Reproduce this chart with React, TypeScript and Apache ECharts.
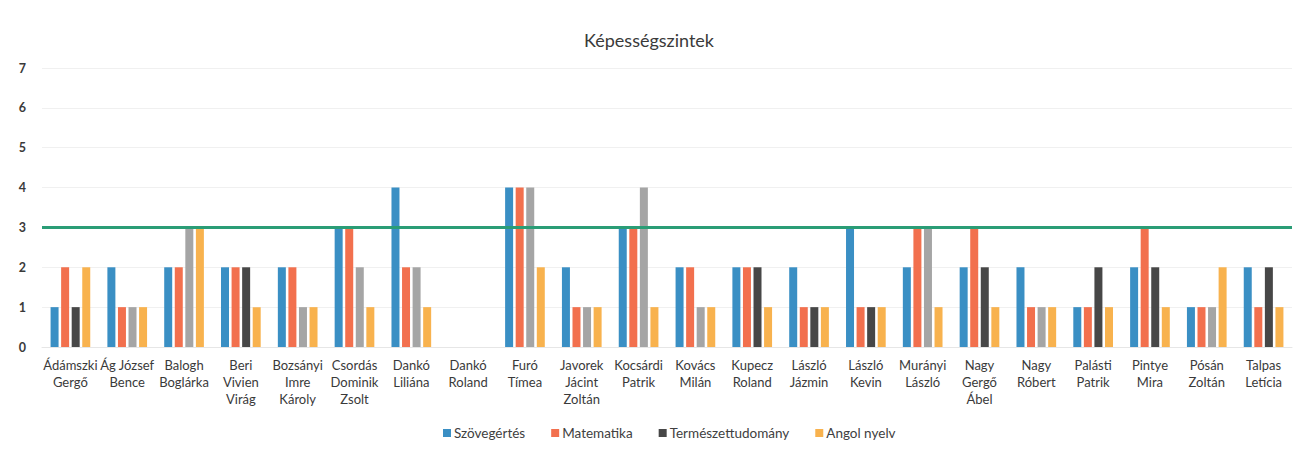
import React, { useEffect, useRef } from "react";
import * as echarts from "echarts";

const title = "Képességszintek";
const categories = [
  "Ádámszki\nGergő", "Ág József\nBence", "Balogh\nBoglárka", "Beri\nVivien\nVirág",
  "Bozsányi\nImre\nKároly", "Csordás\nDominik\nZsolt", "Dankó\nLiliána", "Dankó\nRoland",
  "Furó\nTímea", "Javorek\nJácint\nZoltán", "Kocsárdi\nPatrik", "Kovács\nMilán",
  "Kupecz\nRoland", "László\nJázmin", "László\nKevin", "Murányi\nLászló",
  "Nagy\nGergő\nÁbel", "Nagy\nRóbert", "Palásti\nPatrik", "Pintye\nMira",
  "Pósán\nZoltán", "Talpas\nLetícia",
];
const seriesNames = ["Szövegértés", "Matematika", "Természettudomány", "Angol nyelv"];
const szovegertes = [1, 2, 2, 2, 2, 3, 4, 0, 4, 2, 3, 2, 2, 2, 3, 2, 2, 2, 1, 2, 1, 2];
const matematika = [2, 1, 2, 2, 2, 3, 2, 0, 4, 1, 3, 2, 2, 1, 1, 3, 3, 1, 1, 3, 1, 1];
const termeszettudomany = [1, 1, 3, 2, 1, 2, 2, 0, 4, 1, 4, 1, 2, 1, 1, 3, 2, 1, 2, 2, 1, 2];
const angolNyelv = [2, 1, 3, 1, 1, 1, 1, 0, 2, 1, 1, 1, 1, 1, 1, 1, 1, 1, 1, 1, 2, 1];
const thresholdLevel = 3;
const yTicks = [0, 1, 2, 3, 4, 5, 6, 7];
// indices where the Természettudomány bar shows as light gray in the reference
const lightScienceIdx = [1, 2, 4, 5, 6, 8, 9, 10, 11, 15, 17, 20];

const COLORS = ["#3a8fc4", "#f2704e", "#474747", "#f8b24e"];
const LIGHT_GRAY = "#a5a5a5";
const FONT = "Lato, 'Open Sans', sans-serif";

export default function App() {
  const ref = useRef<HTMLDivElement>(null);
  useEffect(() => {
    document.body.style.margin = "0";
    if (!ref.current) return;
    const chart = echarts.init(ref.current, undefined, { renderer: "svg" });
    const allData = [szovegertes, matematika, termeszettudomany, angolNyelv];
    chart.setOption({
      animation: false,
      backgroundColor: "#ffffff",
      textStyle: { fontFamily: FONT },
      title: {
        text: title,
        left: "center",
        top: 26,
        textStyle: { fontFamily: FONT, fontSize: 18, fontWeight: "normal", color: "#3a3a3a" },
      },
      legend: {
        data: seriesNames,
        bottom: 10,
        left: 438,
        itemWidth: 8,
        itemHeight: 8,
        itemGap: 26,
        icon: "rect",
        textStyle: { fontFamily: FONT, fontSize: 13.5, color: "#404040", padding: [0, 0, 0, -2] },
      },
      grid: { left: 42, right: 6, top: 68, bottom: 108, containLabel: false },
      xAxis: {
        type: "category",
        data: categories,
        axisLine: { show: true, lineStyle: { color: "#e6e6e6" } },
        axisTick: { show: false },
        axisLabel: {
          interval: 0,
          fontFamily: FONT,
          fontSize: 13,
          color: "#3a3a3a",
          lineHeight: 17,
          margin: 9,
        },
      },
      yAxis: {
        type: "value",
        min: yTicks[0],
        max: yTicks[yTicks.length - 1],
        interval: 1,
        axisLine: { show: false },
        axisTick: { show: false },
        axisLabel: { fontFamily: FONT, fontSize: 12.5, color: "#3a3a3a", margin: 16, fontWeight: "bold" },
        splitLine: { lineStyle: { color: "#f0f0f0" } },
      },
      series: allData.map((vals, si) => ({
        name: seriesNames[si],
        type: "bar",
        barWidth: 8,
        barGap: "32%",
        itemStyle: { color: COLORS[si] },
        data: vals.map((v, i) =>
          si === 2 && lightScienceIdx.includes(i)
            ? { value: v, itemStyle: { color: LIGHT_GRAY } }
            : v
        ),
        ...(si === 0
          ? {
              markLine: {
                silent: true,
                symbol: "none",
                label: { show: false },
                lineStyle: { color: "#2a9d76", width: 3, type: "solid" },
                data: [{ yAxis: thresholdLevel }],
              },
            }
          : {}),
      })),
    });
    return () => chart.dispose();
  }, []);
  return <div ref={ref} style={{ width: 1298, height: 455 }} />;
}
